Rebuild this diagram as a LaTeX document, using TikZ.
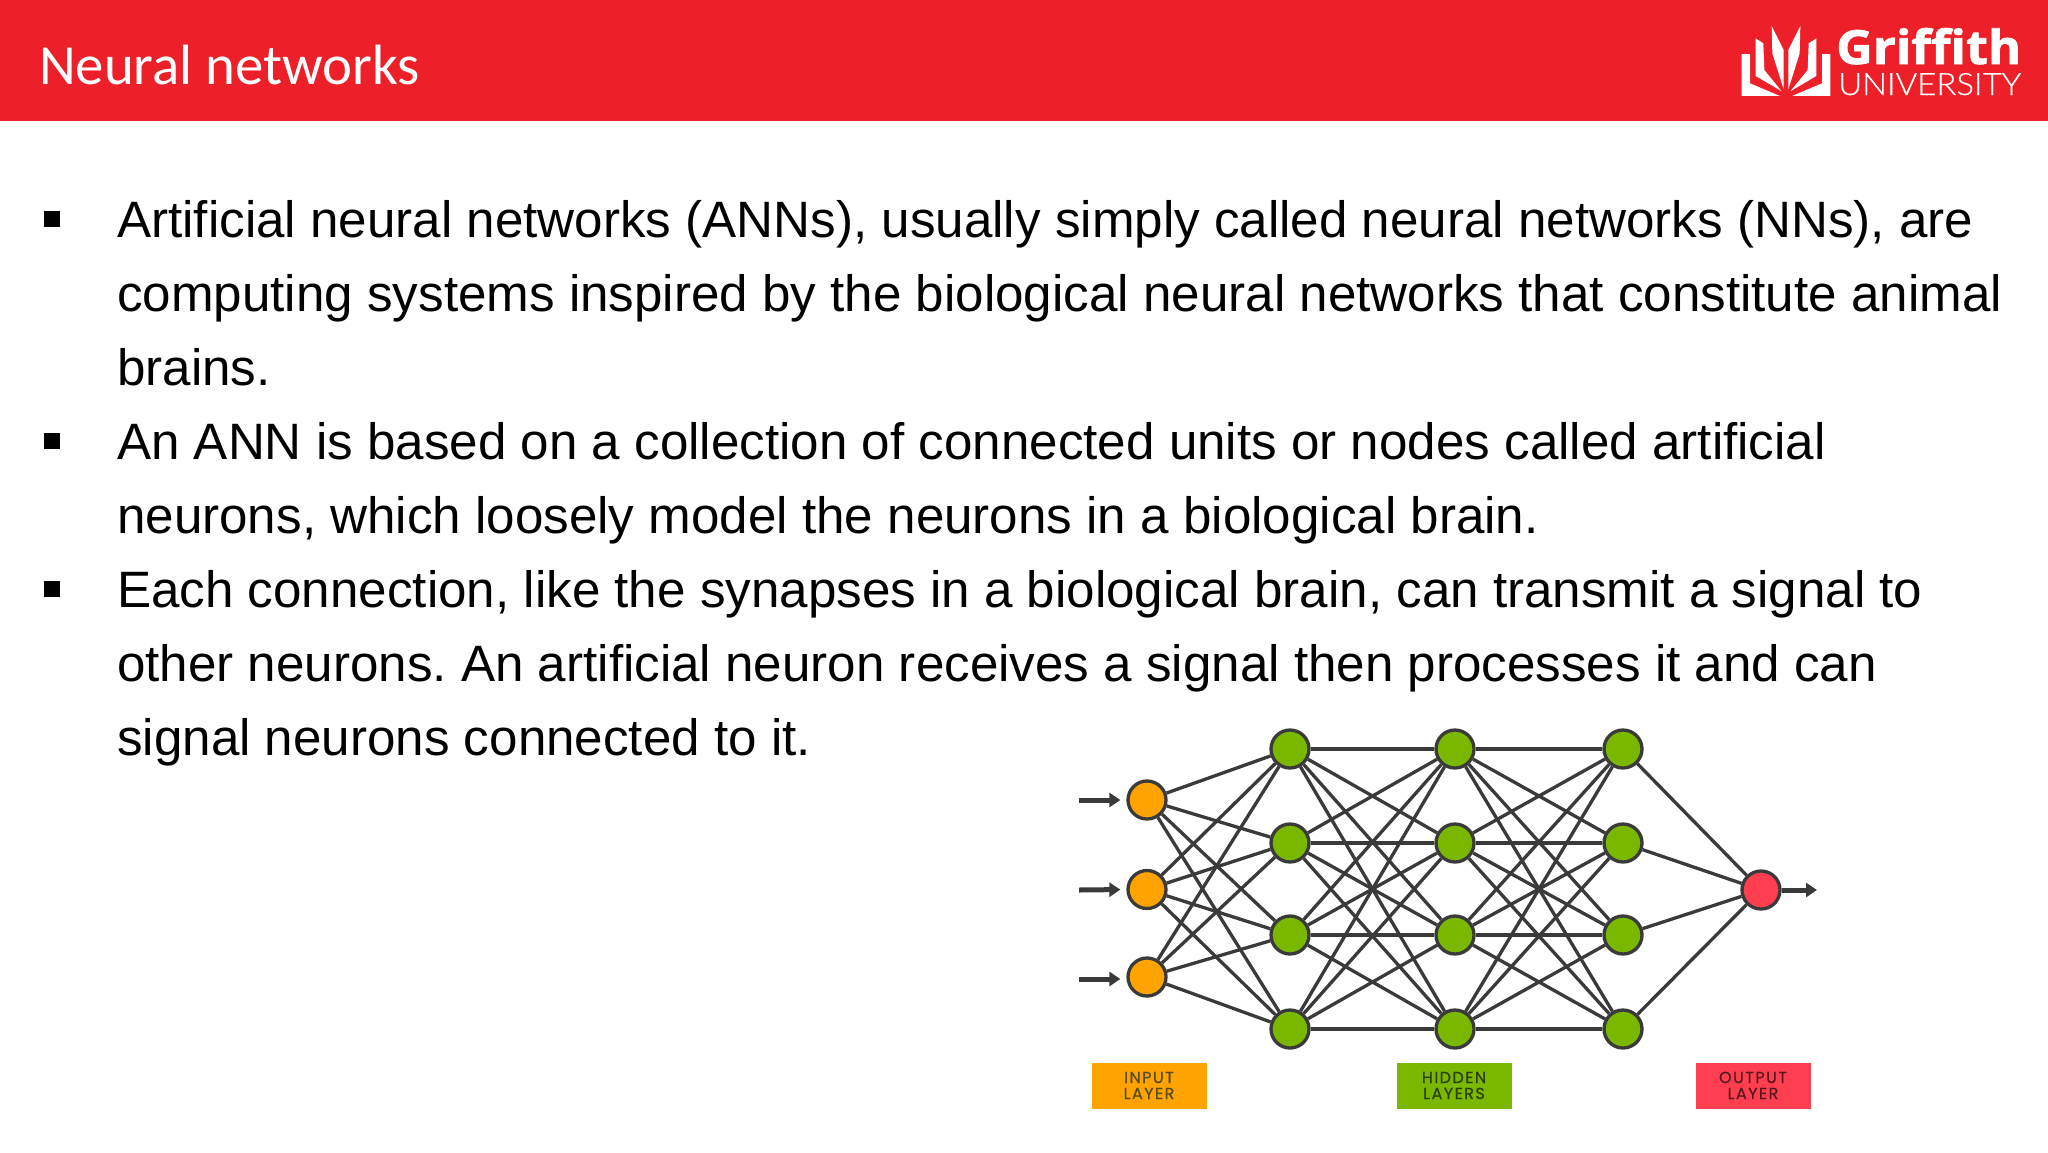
\documentclass[tikz,border=0pt]{standalone}
\usepackage{fontspec}
\setmainfont{Liberation Sans}
\newfontfamily\titlefont{Carlito}
\newfontfamily\logofont[FakeBold=0.3]{Lato Light}
\newfontfamily\logobf[BoldFeatures={FakeBold=1.5}]{Open Sans}
\newfontfamily\lablfont[LetterSpace=9,FakeBold=0.6]{Poppins}
\usetikzlibrary{arrows.meta}
\definecolor{hdr}{HTML}{ED1F28}
\definecolor{edgec}{HTML}{3A3A3A}
\definecolor{inc}{HTML}{FFA300}
\definecolor{hidc}{HTML}{7AB800}
\definecolor{outc}{HTML}{FF3F4F}
\tikzset{
  neuron/.style={circle,draw=edgec,line width=3.3pt,minimum size=38pt,inner sep=0pt},
  link/.style={draw=edgec,line width=3.3pt},
  flow/.style={draw=edgec,line width=5pt,-{Triangle[length=11pt,width=14pt]}},
  bodyline/.style={anchor=base west,inner sep=0pt,font=\fontsize{51.15}{60}\selectfont\frenchspacing,text=black},
  bulletbox/.style={fill=black,minimum size=16pt,inner sep=0pt},
  layerbox/.style={minimum width=115pt,minimum height=46pt,inner sep=0pt},
  layertext/.style={anchor=base,inner sep=0pt,font=\lablfont\fontsize{16}{16}\selectfont},
  logotext/.style={anchor=base west,inner sep=0pt,text=white}
}
\begin{document}
\begin{tikzpicture}[x=1pt,y=-1pt]
\useasboundingbox (0,0) rectangle (2048,1152);
\fill[white] (0,0) rectangle (2048,1152);
\fill[hdr] (0,0) rectangle (2048,121);
\node[anchor=base west,inner sep=0pt,text=white,font=\titlefont\fontsize{56.8}{60}\selectfont] (title) at (39,84) {Neural networks};
% logo
\begin{scope}[shift={(1735,20)},x=0.3333pt,y=-0.3333pt,fill=white]
\fill (20,102) -- (45,102) -- (45,190) -- (135,228) -- (20,228) -- cycle;
\fill (62,55) -- (85,70) -- (88,150) -- (140,214) -- (62,168) -- cycle;
\fill (110,18) -- (146,90) -- (146,208) -- (112,100) -- cycle;
\fill (286,102) -- (261,102) -- (261,190) -- (171,228) -- (286,228) -- cycle;
\fill (244,55) -- (221,70) -- (218,150) -- (166,214) -- (244,168) -- cycle;
\fill (196,18) -- (160,90) -- (160,208) -- (194,100) -- cycle;
\end{scope}
\node[logotext] (griffith) at (1836,64) {\resizebox{185pt}{36pt}{\logobf\bfseries Grif{}f{}ith}};
\node[logotext] (univ) at (1838,95) {\resizebox{183pt}{22pt}{\logofont UNIVERSITY}};
% bullets
\node[bulletbox] (b1) at (52,219) {};
\node[bulletbox] (b2) at (52,441) {};
\node[bulletbox] (b3) at (52,589) {};
% text
\node[bodyline] (l1) at (117,237) {Artificial neural networks (ANNs), usually simply called neural networks (NNs), are};
\node[bodyline] (l2) at (117,311) {computing systems inspired by the biological neural networks that constitute animal};
\node[bodyline] (l3) at (117,385.5) {brains.};
\node[bodyline] (l4) at (117,459) {An ANN is based on a collection of connected units or nodes called artificial};
\node[bodyline] (l5) at (117,533) {neurons, which loosely model the neurons in a biological brain.};
\node[bodyline] (l6) at (117,607) {Each connection, like the synapses in a biological brain, can transmit a signal to};
\node[bodyline] (l7) at (117,681) {other neurons. An artificial neuron receives a signal then processes it and can};
\node[bodyline] (l8) at (117,755) {signal neurons connected to it.};
% network
\coordinate (i1p) at (1147,800);
\coordinate (i2p) at (1147,889.5);
\coordinate (i3p) at (1147,977);
\node[neuron,fill=inc] (i1) at (i1p) {};
\node[neuron,fill=inc] (i2) at (i2p) {};
\node[neuron,fill=inc] (i3) at (i3p) {};
\foreach \n/\x in {a/1290,b/1455,c/1623}{
  \node[neuron,fill=hidc] (\n1) at (\x,749) {};
  \node[neuron,fill=hidc] (\n2) at (\x,843) {};
  \node[neuron,fill=hidc] (\n3) at (\x,935) {};
  \node[neuron,fill=hidc] (\n4) at (\x,1029) {};
}
\node[neuron,fill=outc] (o) at (1761,890) {};
\foreach \s in {1,2,3}{\foreach \t in {1,2,3,4}{\draw[link] (i\s) -- (a\t);}}
\foreach \s in {1,2,3,4}{\foreach \t in {1,2,3,4}{
  \draw[link] (a\s) -- (b\t);
  \draw[link] (b\s) -- (c\t);}}
\foreach \s in {1,2,3,4}{\draw[link] (c\s) -- (o);}
\coordinate (s1) at (1079,800);
\coordinate (s2) at (1079,890);
\coordinate (s3) at (1079,979);
\coordinate (e) at (1817,890);
\draw[flow,shorten >=6pt] (s1) -- (i1p -| i1.west);
\draw[flow,shorten >=6pt] (s2) -- (i2p -| i2.west);
\draw[flow,shorten >=6pt] (s3) -- (s3 -| i3.west);
\draw[flow] (o) -- (e);
% layer labels
\node[layerbox,fill=inc] (li) at (1149.5,1086) {};
\node[layerbox,fill=hidc] (lh) at (1454.5,1086) {};
\node[layerbox,fill=outc] (lo) at (1753.5,1086) {};
\definecolor{ltxt}{HTML}{5A4A20}
\node[layertext,text=ltxt] (li1) at (1149,1083) {INPUT};
\node[layertext,text=ltxt] (li2) at (1149,1099) {LAYER};
\node[layertext,text=black!65!hidc] (lh1) at (1454,1083) {HIDDEN};
\node[layertext,text=black!65!hidc] (lh2) at (1454,1099) {LAYERS};
\node[layertext,text=black!65!outc] (lo1) at (1753,1083) {OUTPUT};
\node[layertext,text=black!65!outc] (lo2) at (1753,1099) {LAYER};
\end{tikzpicture}
\end{document}
